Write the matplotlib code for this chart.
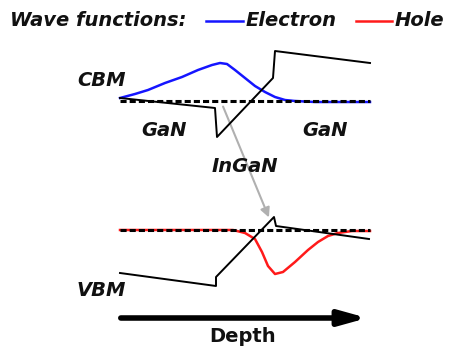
import matplotlib.pyplot as plt

# band edges (pixel-like coordinates, y grows downward)
cbm_x = [120, 215, 217, 273, 275, 370]
cbm_y = [98, 108, 137, 78, 51, 63]
vbm_x = [120, 216, 216, 274, 276, 369]
vbm_y = [273, 286, 277, 217, 226, 239]

# wave functions
el_x = [120, 135, 148, 165, 182, 198, 212, 220, 227, 235, 245, 255, 265, 275, 285, 295, 315, 370]
el_y = [98, 94, 90, 83, 77, 70, 65, 63, 64, 70, 78, 86, 92, 97, 100, 101, 102, 102]
ho_x = [120, 233, 245, 255, 262, 268, 275, 283, 295, 308, 318, 328, 338, 352, 370]
ho_y = [230, 230, 233, 239, 252, 266, 274, 272, 262, 250, 242, 236, 233, 231, 231]

fig = plt.figure(figsize=(4.5, 3.52), dpi=100)
ax = fig.add_axes([0, 0, 1, 1])
ax.set_xlim(0, 450)
ax.set_ylim(352, 0)
ax.axis('off')

ax.plot(el_x, el_y, color='#1515ff', lw=1.8, zorder=2, solid_joinstyle='round')
ax.plot(ho_x, ho_y, color='#ff1a1a', lw=1.8, zorder=2, solid_joinstyle='round')
ax.plot([120, 370], [101, 101], color='black', lw=2.2, ls=(0, (2, 1)), zorder=3)
ax.plot([120, 370], [230, 230], color='black', lw=2.2, ls=(0, (2, 1)), zorder=3)
ax.plot(cbm_x, cbm_y, color='black', lw=1.4, zorder=4)
ax.plot(vbm_x, vbm_y, color='black', lw=1.4, zorder=4)

ax.annotate('', xy=(270, 220), xytext=(222, 104),
            arrowprops=dict(arrowstyle='-|>', color='#b0b0b0', lw=1.5, mutation_scale=14), zorder=1)
ax.annotate('', xy=(370, 318), xytext=(118, 318),
            arrowprops=dict(arrowstyle='-|>,head_length=0.9,head_width=0.25', color='black', lw=4, mutation_scale=18))

f = dict(fontweight='bold', fontstyle='italic', fontsize=14, color='#111111')
ax.text(10, 21, 'Wave functions:', va='center', ha='left', **f)
ax.plot([206, 243], [21, 21], color='#1515ff', lw=1.8)
ax.text(246, 21, 'Electron', va='center', ha='left', **f)
ax.plot([356, 392], [21, 21], color='#ff1a1a', lw=1.8)
ax.text(395, 21, 'Hole', va='center', ha='left', **f)

ax.text(102, 80, 'CBM', va='center', ha='center', **f)
ax.text(164, 131, 'GaN', va='center', ha='center', **f)
ax.text(325, 131, 'GaN', va='center', ha='center', **f)
ax.text(245, 166, 'InGaN', va='center', ha='center', **f)
ax.text(101, 290, 'VBM', va='center', ha='center', **f)
ax.text(243, 337, 'Depth', va='center', ha='center', fontweight='bold', fontsize=14, color='#111111')

fig.savefig('out.png', dpi=100)
